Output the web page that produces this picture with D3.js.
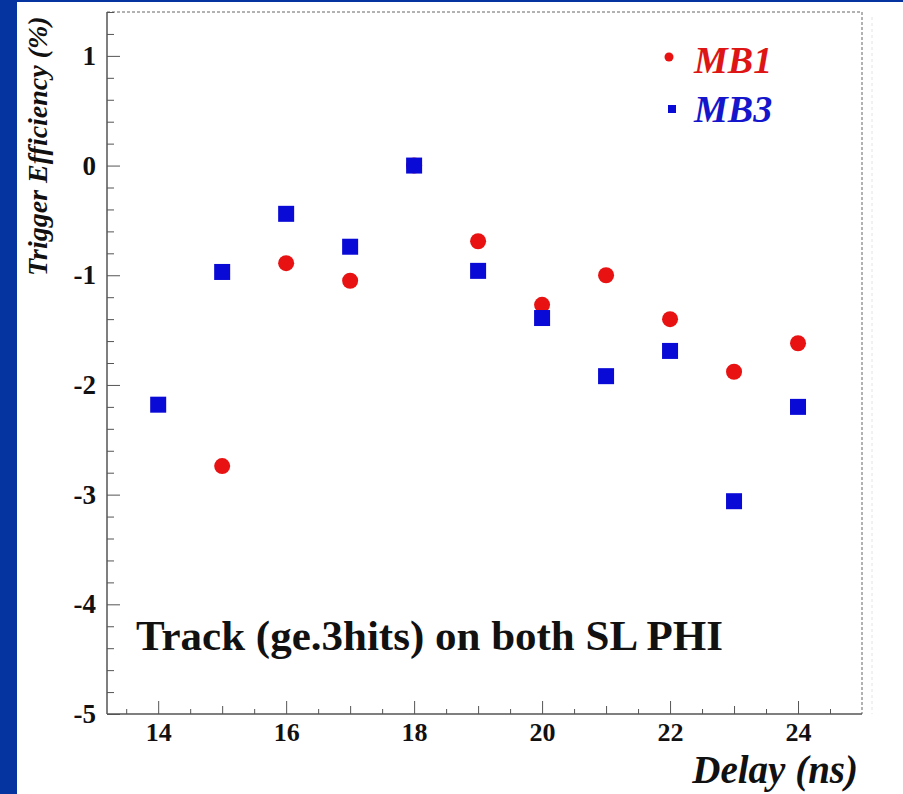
<!DOCTYPE html>
<html><head><meta charset="utf-8">
<script src="https://cdn.jsdelivr.net/npm/d3@7"></script>
<style>body{margin:0;background:#fff}svg{display:block}</style>
</head><body>
<script>
// ---- data ----
const mb1Delay = [15, 16, 17, 18, 19, 20, 21, 22, 23, 24];
const mb1Eff   = [-2.74, -0.89, -1.05, 0.0, -0.69, -1.27, -1.00, -1.40, -1.88, -1.62];
const mb3Delay = [14, 15, 16, 17, 18, 19, 20, 21, 22, 23, 24];
const mb3Eff   = [-2.18, -0.97, -0.44, -0.74, 0.0, -0.96, -1.39, -1.92, -1.69, -3.06, -2.20];
const xMajorTicks = [14, 16, 18, 20, 22, 24];
const yMajorTicks = [-5, -4, -3, -2, -1, 0, 1];
const seriesNames = ["MB1", "MB3"];
const annotation = "Track (ge.3hits) on both SL PHI";
const xTitle = "Delay (ns)";
const yTitle = "Trigger Efficiency (%)";

const W = 903, H = 794;
const L = 107, R = 862, T = 12, B = 714;
const red = "#e81212", blue = "#0a0ad6";
const serif = "'Liberation Serif','DejaVu Serif',serif";
const fmt = d => String(d);

const svg = d3.select("body").append("svg").attr("width", W).attr("height", H);
svg.append("rect").attr("width", W).attr("height", H).attr("fill", "#fff");
svg.append("rect").attr("x", 0).attr("y", 0).attr("width", 17).attr("height", H).attr("fill", "#0533a0");
svg.append("rect").attr("x", 0).attr("y", 0).attr("width", W).attr("height", 2).attr("fill", "#0533a0");

const x = d3.scaleLinear().domain([13.2, 25]).range([L, R]);
const y = d3.scaleLinear().domain([-5, 1.4]).range([B, T]);

// frame: top & right dashed
svg.append("line").attr("x1", L).attr("x2", R).attr("y1", T).attr("y2", T)
  .attr("stroke", "#999").attr("stroke-width", 1.5).attr("stroke-dasharray", "3,2");
svg.append("line").attr("x1", R).attr("x2", R).attr("y1", T).attr("y2", B)
  .attr("stroke", "#999").attr("stroke-width", 1.5).attr("stroke-dasharray", "3,2");
svg.append("line").attr("x1", R + 10).attr("x2", R + 10).attr("y1", T + 5).attr("y2", B)
  .attr("stroke", "#e4e4e4").attr("stroke-width", 1).attr("stroke-dasharray", "3,3");

// minor y ticks
const yMinor = d3.range(-5, 1.41, 0.2).map(v => +v.toFixed(1)).filter(v => Math.abs(v - Math.round(v)) > 1e-6);
svg.append("g").attr("transform", `translate(${L},0)`)
  .call(d3.axisLeft(y).tickValues(yMinor).tickSize(-7).tickSizeOuter(0).tickFormat(""))
  .call(g => g.select(".domain").remove())
  .call(g => g.selectAll("line").attr("stroke", "#555"));
// major y
svg.append("g").attr("transform", `translate(${L},0)`)
  .call(d3.axisLeft(y).tickValues(yMajorTicks).tickSize(-13).tickSizeOuter(0).tickPadding(11).tickFormat(fmt))
  .call(g => g.select(".domain").remove())
  .call(g => g.selectAll("line").attr("stroke", "#555"))
  .call(g => g.selectAll("text").attr("font-family", serif).attr("font-weight", "bold").attr("font-size", 27).attr("fill", "#111"));

// x ticks
const xHalf = d3.range(13.5, 25, 0.5).filter(v => v % 1 !== 0);
const xOdd = d3.range(15, 25, 2);
svg.append("g").attr("transform", `translate(0,${B})`)
  .call(d3.axisBottom(x).tickValues(xHalf).tickSize(-5).tickSizeOuter(0).tickFormat(""))
  .call(g => g.select(".domain").remove())
  .call(g => g.selectAll("line").attr("stroke", "#555"));
svg.append("g").attr("transform", `translate(0,${B})`)
  .call(d3.axisBottom(x).tickValues(xOdd).tickSize(-8).tickSizeOuter(0).tickFormat(""))
  .call(g => g.select(".domain").remove())
  .call(g => g.selectAll("line").attr("stroke", "#555"));
svg.append("g").attr("transform", `translate(0,${B})`)
  .call(d3.axisBottom(x).tickValues(xMajorTicks).tickSize(-13).tickSizeOuter(0).tickPadding(9).tickFormat(fmt))
  .call(g => g.select(".domain").remove())
  .call(g => g.selectAll("line").attr("stroke", "#555"))
  .call(g => g.selectAll("text").attr("font-family", serif).attr("font-weight", "bold").attr("font-size", 26).attr("fill", "#111"));

// solid left & bottom axis lines
svg.append("line").attr("x1", L).attr("x2", L).attr("y1", T).attr("y2", B).attr("stroke", "#555").attr("stroke-width", 1.5);
svg.append("line").attr("x1", L).attr("x2", R).attr("y1", B).attr("y2", B).attr("stroke", "#555").attr("stroke-width", 1.5);

// data points: MB1 circles drawn first, MB3 squares on top
svg.append("g").selectAll("circle").data(mb1Delay.map((d, i) => [d, mb1Eff[i]])).join("circle")
  .attr("cx", d => x(d[0])).attr("cy", d => y(d[1])).attr("r", 8).attr("fill", red);
const s = 16;
svg.append("g").selectAll("rect").data(mb3Delay.map((d, i) => [d, mb3Eff[i]])).join("rect")
  .attr("x", d => x(d[0]) - s / 2).attr("y", d => y(d[1]) - s / 2).attr("width", s).attr("height", s).attr("fill", blue);

// legend
svg.append("circle").attr("cx", 669).attr("cy", 57).attr("r", 4.5).attr("fill", red);
svg.append("rect").attr("x", 668).attr("y", 105).attr("width", 8).attr("height", 8).attr("fill", blue);
svg.append("text").attr("x", 694).attr("y", 73).text(seriesNames[0])
  .attr("font-family", serif).attr("font-style", "italic").attr("font-weight", "bold").attr("font-size", 38).attr("fill", "#dd1515");
svg.append("text").attr("x", 694).attr("y", 122).text(seriesNames[1])
  .attr("font-family", serif).attr("font-style", "italic").attr("font-weight", "bold").attr("font-size", 38).attr("fill", "#1515cc");

// annotation
svg.append("text").attr("x", 136).attr("y", 650).text(annotation)
  .attr("font-family", serif).attr("font-weight", "bold").attr("font-size", 43).attr("fill", "#111");

// axis titles
svg.append("text").attr("x", 858).attr("y", 783).attr("text-anchor", "end").text(xTitle)
  .attr("font-family", serif).attr("font-style", "italic").attr("font-weight", "bold").attr("font-size", 39).attr("fill", "#111");
svg.append("text").attr("transform", "translate(47,276) rotate(-90)").attr("text-anchor", "start").text(yTitle)
  .attr("font-family", serif).attr("font-style", "italic").attr("font-weight", "bold").attr("font-size", 28).attr("fill", "#111");
</script>
</body></html>
